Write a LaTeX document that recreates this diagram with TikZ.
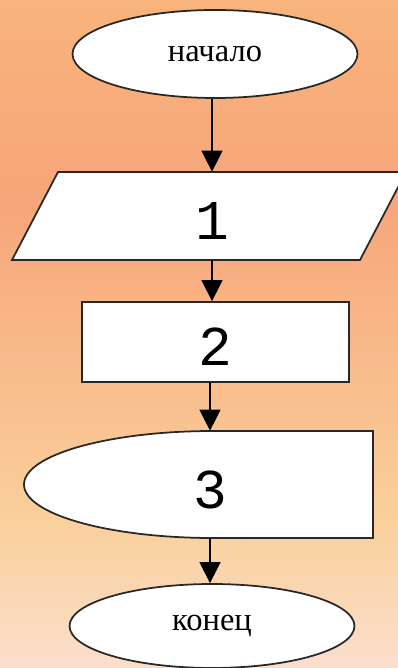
\documentclass[tikz,border=0pt]{standalone}
\usepackage{fontspec}
\setmainfont{Liberation Serif}
\newfontfamily\digitfont{Liberation Mono}
\usepackage{tikz}
\usetikzlibrary{shapes.geometric,arrows.meta}

\definecolor{bgtop}{RGB}{248,180,124}
\definecolor{bgsalmon}{RGB}{247,165,122}
\definecolor{bgpeach}{RGB}{250,208,155}
\definecolor{bgbottom}{RGB}{251,222,204}
\definecolor{edge}{RGB}{40,40,40}

\begin{document}
\begin{tikzpicture}[x=0.02cm, y=-0.02cm, >={Triangle[width=12pt,length=12pt]},
    block/.style={draw=edge, fill=white, line width=1pt, inner sep=0pt},
    word/.style={font=\fontsize{18.5}{20}\selectfont},
    digit/.style={font=\digitfont\fontsize{32}{34}\selectfont, text height=27pt, text depth=0pt, inner sep=0pt},
    term/.style={block, ellipse, minimum width=5.7cm, word},
    proc/.style={block, rectangle, minimum width=5.34cm, minimum height=1.6cm, digit},
    flow/.style={->, draw=black, line width=0.7pt}]
    % Background
    \clip (0,0) rectangle (398,668);
    \shade[top color=bgtop, bottom color=bgsalmon] (0,0) rectangle (398,201);
    \shade[top color=bgsalmon, bottom color=bgpeach] (0,200) rectangle (398,521);
    \shade[top color=bgpeach, bottom color=bgbottom] (0,520) rectangle (398,668);

    % Blocks
    \node[term, minimum height=1.76cm] (start) at (215,54) {начало};
    % Input block: parallelogram
    \draw[block] (12,260) -- (58,172) -- (406,172) -- (360,260) -- cycle;
    \node[digit, minimum height=1.76cm] (in) at (212,216) {1};
    \node[proc] (calc) at (215.5,342) {2};
    % Output block: long rounded left side, straight right side
    \draw[block] (373,431) -- (213,431)
        arc[start angle=270, end angle=90, x radius=189, y radius=53.5]
        -- (373,538) -- cycle;
    \node[digit, minimum height=2.14cm] (out) at (210,484.5) {3};
    \node[term, minimum height=1.68cm] (end) at (212,626) {конец};

    % Arrows
    \draw[flow] (start.south -| in) -- (in.north);
    \draw[flow] (in) -- (calc.north -| in);
    \draw[flow] (calc.south -| out) -- (out);
    \draw[flow] (out) -- (end.north -| out);
\end{tikzpicture}
\end{document}
